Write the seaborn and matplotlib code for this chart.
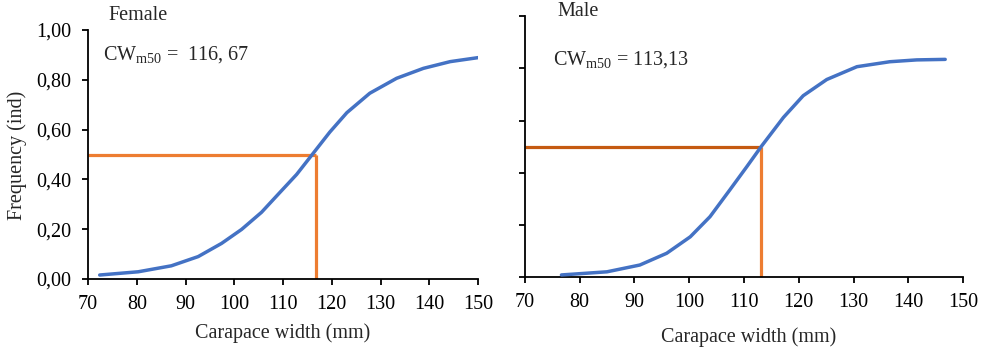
import matplotlib
matplotlib.use("Agg")
import matplotlib.pyplot as plt
import seaborn as sns
import pandas as pd

# Data
female_cw = [72.4, 80.3, 87.1, 92.6, 97.4, 101.5, 105.6, 109.0, 112.8, 116.2, 119.6, 123.1, 127.8, 133.3, 138.8, 144.3, 150.0]
female_freq = [0.016, 0.029, 0.053, 0.090, 0.143, 0.199, 0.268, 0.340, 0.420, 0.505, 0.590, 0.668, 0.746, 0.806, 0.846, 0.873, 0.889]
male_cw = [76.7, 85.0, 91.0, 95.9, 100.2, 103.8, 107.4, 110.5, 113.2, 117.2, 120.8, 125.1, 130.6, 136.6, 141.5, 146.7]
male_freq = [0.009, 0.021, 0.047, 0.092, 0.155, 0.232, 0.334, 0.423, 0.502, 0.612, 0.695, 0.757, 0.806, 0.825, 0.832, 0.834]

female_cw50 = 116.67
male_cw50 = 113.13
x_ticks = [70, 80, 90, 100, 110, 120, 130, 140, 150]
y_ticks = [0.0, 0.2, 0.4, 0.6, 0.8, 1.0]
y_tick_labels = ["0,00", "0,20", "0,40", "0,60", "0,80", "1,00"]

sns.set_style("ticks")
plt.rcParams["font.family"] = ["Liberation Serif", "DejaVu Serif"]
plt.rcParams["mathtext.fontset"] = "custom"
plt.rcParams["mathtext.rm"] = "Liberation Serif"
plt.rcParams["mathtext.it"] = "Liberation Serif:italic"

fig = plt.figure(figsize=(9.87, 3.48), dpi=100)
axL = fig.add_axes([88/987, (348-279)/348, 390/987, 249/348])
axR = fig.add_axes([524.7/987, (348-277.3)/348, 438.6/987, 261.3/348])

blue = "#4472C4"
orange = "#ED7D31"
dark_orange = "#C55A11"

fdf = pd.DataFrame({"cw": female_cw, "freq": female_freq})
mdf = pd.DataFrame({"cw": male_cw, "freq": male_freq})

fs = 14.5
for ax, df, cw50, hcol, ctext, tx, ty, show_labels in [
    (axL, fdf, female_cw50, orange, r"CW$_{\mathrm{m50}}$ =  116, 67", 103, 55, True),
    (axR, mdf, male_cw50, dark_orange, r"CW$_{\mathrm{m50}}$ = 113,13", 553, 60, False),
]:
    ax.plot([70, cw50], [0.5, 0.5], color=hcol, lw=2.3, solid_capstyle="butt", zorder=2)
    ax.plot([cw50, cw50], [0, 0.5], color=orange, lw=2.3, solid_capstyle="butt", zorder=2)
    sns.lineplot(data=df, x="cw", y="freq", ax=ax, color=blue, lw=2.5, zorder=3,
                 solid_joinstyle="round", solid_capstyle="round")
    ax.set_xlim(70, 150)
    ax.set_ylim(0, 1.0)
    ax.set_xticks(x_ticks)
    ax.set_xticklabels([str(v) for v in x_ticks], fontsize=fs)
    ax.set_yticks(y_ticks)
    if show_labels:
        ax.set_yticklabels(y_tick_labels, fontsize=fs)
    else:
        ax.set_yticklabels([])
    ax.set_ylabel("")
    ax.set_xlabel("")
    for s in ["top", "right"]:
        ax.spines[s].set_visible(False)
    for s in ["left", "bottom"]:
        ax.spines[s].set_color("black")
        ax.spines[s].set_linewidth(1.3)
    ax.tick_params(axis="both", direction="out", length=4.3, width=1.3, color="black", labelcolor="black")
    ax.tick_params(axis="x", pad=7)
    ax.tick_params(axis="y", pad=8)
    ax.patch.set_alpha(0)
    fig.text(tx/987, 1 - ty/348, ctext, fontsize=fs, va="center", ha="left")

fig.text(138/987, 1 - 15/348, "Female", fontsize=fs, va="center", ha="center")
fig.text(578/987, 1 - 12/348, "Male", fontsize=fs, va="center", ha="center")
fig.text(283/987, 1 - 333/348, "Carapace width (mm)", fontsize=fs, va="center", ha="center")
fig.text(749/987, 1 - 337/348, "Carapace width (mm)", fontsize=fs, va="center", ha="center")
fig.text(17/987, 1 - 155/348, "Frequency (ind)", fontsize=fs, va="center", ha="center", rotation=90)

fig.savefig("out.png", dpi=100)
